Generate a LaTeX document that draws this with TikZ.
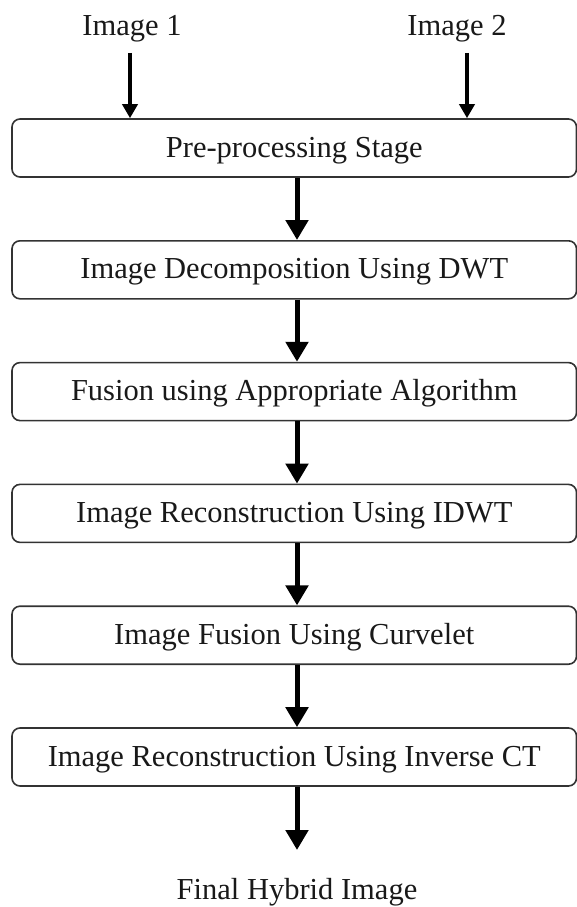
\documentclass[tikz,border=0pt]{standalone}
\usepackage{fontspec}
\setmainfont{Liberation Serif}
\usetikzlibrary{arrows.meta}
\begin{document}
\begin{tikzpicture}[x=1pt,y=1pt,
  stagebox/.style={draw=black!80, line width=1.6pt, rounded corners=8pt,
    minimum width=564.5pt, minimum height=58pt, inner sep=0pt,
    text height=22pt, text depth=4pt,
    font=\fontsize{30.5}{32}\selectfont, text=black!90},
  lbl/.style={anchor=base, inner sep=0pt, font=\fontsize{30.5}{32}\selectfont, text=black!90},
  bigarrow/.style={line width=5pt, -{Triangle[width=22pt,length=20pt]}},
  smallarrow/.style={line width=3.5pt, -{Triangle[width=15pt,length=14pt]}}]
\useasboundingbox (0,0) rectangle (577,-907);
\node[lbl] (img1) at (132,-36) {Image 1};
\node[lbl] (img2) at (457,-36) {Image 2};
\node[stagebox] (b1) at (294.25,-148) {Pre-processing Stage};
\node[stagebox] (b2) at (294.25,-269.8) {Image Decomposition Using DWT};
\node[stagebox] (b3) at (294.25,-391.6) {Fusion using Appropriate Algorithm};
\node[stagebox] (b4) at (294.25,-513.4) {Image Reconstruction Using IDWT};
\node[stagebox] (b5) at (294.25,-635.2) {Image Fusion Using Curvelet};
\node[stagebox] (b6) at (294.25,-757) {Image Reconstruction Using Inverse CT};
\node[lbl] (final) at (297,-899) {Final Hybrid Image};
\coordinate (s1) at (130,-53);
\coordinate (s2) at (467,-53);
\coordinate (ax) at (297,0);
\coordinate (endpt) at (297,-850);
\draw[smallarrow] (s1) -- (b1.north -| s1);
\draw[smallarrow] (s2) -- (b1.north -| s2);
\draw[bigarrow] (b1.south -| ax) -- (b2.north -| ax);
\draw[bigarrow] (b2.south -| ax) -- (b3.north -| ax);
\draw[bigarrow] (b3.south -| ax) -- (b4.north -| ax);
\draw[bigarrow] (b4.south -| ax) -- (b5.north -| ax);
\draw[bigarrow] (b5.south -| ax) -- (b6.north -| ax);
\draw[bigarrow] (b6.south -| ax) -- (endpt);
\end{tikzpicture}
\end{document}
